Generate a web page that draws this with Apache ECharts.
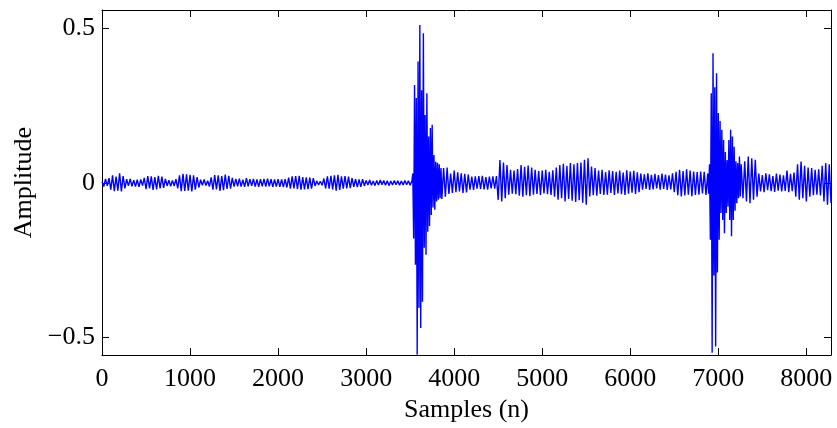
<!DOCTYPE html>
<html><head><meta charset="utf-8">
<script src="https://cdn.jsdelivr.net/npm/echarts@6/dist/echarts.min.js"></script>
<style>html,body{margin:0;padding:0;background:#fff}#c{width:837px;height:428px}</style>
</head><body><div id="c"></div>
<script>
// Tick labels
const xTicks = [0,1000,2000,3000,4000,5000,6000,7000,8000];
const yTicks = [-0.5,0,0.5];
const xRange = [0, 8280];
const yRange = [-0.558, 0.56];

// Read waveform extremes (alternating), quiet part sampled every 20 samples from n=0
const quiet0 = [0.004,-0.012,0.013,-0.010,0.015,-0.022,0.024,-0.027,0.020,-0.025,0.031,-0.028,0.022,-0.018,0.012,-0.010,0.013,-0.011,0.009,-0.012,0.010,-0.013,0.011,-0.009,0.016,-0.020,0.022,-0.018,0.021,-0.023,0.019,-0.021,0.023,-0.018,0.020,-0.016,0.013,-0.010,0.009,-0.011,0.008,-0.010,0.012,-0.018,0.024,-0.027,0.029,-0.026,0.028,-0.025];
const quiet1 = [0.026,-0.028,0.024,-0.022,0.019,-0.015,0.010,-0.008,0.011,-0.009,0.007,-0.012,0.018,-0.022,0.025,-0.021,0.024,-0.026,0.022,-0.024,0.027,-0.020,0.023,-0.019,0.016,-0.012,0.013,-0.011,0.014,-0.012,0.010,-0.013,0.015,-0.011,0.012,-0.010,0.013,-0.012,0.011,-0.013,0.012,-0.011,0.013,-0.012,0.014,-0.011,0.012,-0.013,0.011,-0.012];
const quiet2 = [0.012,-0.013,0.011,-0.014,0.012,-0.015,0.017,-0.019,0.021,-0.018,0.022,-0.020,0.023,-0.022,0.019,-0.021,0.018,-0.020,0.017,-0.019,0.015,-0.010,0.006,-0.007,0.005,-0.008,0.014,-0.018,0.021,-0.019,0.023,-0.021,0.024,-0.025,0.026,-0.023,0.021,-0.019,0.022,-0.018,0.020,-0.017,0.015,-0.013,0.012,-0.014,0.011,-0.013,0.012,-0.010];
const quiet3 = [0.008,-0.007,0.009,-0.008,0.006,-0.009,0.008,-0.007,0.009,-0.006,0.008,-0.008,0.007,-0.009,0.006,-0.007,0.008,-0.006,0.007,-0.008,0.006,-0.007,0.008,-0.006,0.007,-0.008,0.006];
const quietStart = 0, quietStep = 20;

// First event, every 10 samples from n=3530
const burst1 = [0.030,-0.180,0.317,-0.265,0.275,-0.557,0.393,-0.405,0.511,-0.470,0.300,-0.385,0.485,-0.210,0.220,-0.233,0.290,-0.158,0.150,-0.140,0.178,-0.104,0.188,-0.080,0.090,-0.087,0.068,-0.060,0.065,-0.055,0.060,-0.050,0.048];
const burst1Start = 3530, burstStep = 10;

// Middle part, every 20 samples from n=3860
const mid0 = [-0.052,0.048,-0.045,0.050,-0.036,0.030,-0.033,0.040,-0.030,0.034,-0.028,0.031,-0.033,0.029,-0.031,0.027,-0.022,0.020,-0.023,0.021,-0.019,0.022,-0.020,0.023,-0.021,0.019,-0.022,0.020,-0.018,0.021,-0.019,0.022];
const mid1 = [-0.055,0.074,-0.060,0.066,-0.050,0.058,-0.038,0.042,-0.035,0.040,-0.037,0.045,-0.042,0.058,-0.045,0.052,-0.040,0.056,-0.043,0.050,-0.038,0.042,-0.036,0.038,-0.039,0.040,-0.034,0.042,-0.037,0.036,-0.039,0.041,-0.045,0.050,-0.055,0.058,-0.050,0.062,-0.060,0.055,-0.052,0.064,-0.058,0.060,-0.062,0.064,-0.056,0.066,-0.064,0.075];
const mid2 = [-0.071,0.080,-0.044,0.053,-0.040,0.048,-0.042,0.040,-0.036,0.042,-0.039,0.035,-0.038,0.041,-0.033,0.038,-0.039,0.036,-0.034,0.040,-0.037,0.033,-0.039,0.041,-0.035,0.037,-0.032,0.039,-0.036,0.034,-0.030,0.030,-0.022,0.028,-0.020,0.031,-0.023,0.026,-0.021,0.029,-0.018,0.025,-0.022,0.030,-0.020,0.027,-0.023,0.024,-0.021,0.031];
const mid3 = [-0.030,0.036,-0.040,0.042,-0.044,0.038,-0.041,0.044,-0.038,0.040,-0.043,0.037,-0.039,0.035,-0.038,0.037,-0.034,0.036,-0.039,0.030];
const midStart = 3860, midStep = 20;

// Second event, every 10 samples from n=6890
const burst2 = [-0.035,0.060,-0.184,0.290,-0.550,0.420,-0.300,0.310,-0.530,0.355,-0.290,0.226,-0.184,0.200,-0.098,0.172,-0.120,0.139,-0.163,0.100,-0.098,0.074,-0.077,0.139,-0.120,0.172,-0.173,0.150,-0.120,0.117,-0.090,0.070,-0.066,0.064,-0.050,0.085,-0.044];
const burst2Start = 6890;

// Tail, every 20 samples from n=7260
const tail = [0.060,-0.050,0.070,-0.060,0.085,-0.066,0.080,-0.055,0.075,-0.045,0.030,-0.028,0.025,-0.030,0.031,-0.024,0.028,-0.027,0.022,-0.029,0.030,-0.025,0.027,-0.028,0.024,-0.026,0.040,-0.030,0.029,-0.027,0.033,-0.045,0.060,-0.055,0.069,-0.050,0.055,-0.060,0.050,-0.045,0.048,-0.040,0.042,-0.038,0.044,-0.041,0.055,-0.060,0.064,-0.071,0.060,-0.065];
const tailStart = 7260, tailStep = 20;

function pairs(vals, start, step){ return vals.map((v,i)=>[start+i*step, v]); }
const quiet = quiet0.concat(quiet1, quiet2, quiet3);
const mid = mid0.concat(mid1, mid2, mid3);
const data = [].concat(
  pairs(quiet, quietStart, quietStep),
  pairs(burst1, burst1Start, burstStep),
  pairs(mid, midStart, midStep),
  pairs(burst2, burst2Start, burstStep),
  pairs(tail, tailStart, tailStep)
);

const font = 'Liberation Serif';
const fs = 26;
const fmtX = v => String(v);
const fmtY = v => (v < 0 ? '\u2212' + String(-v) : String(v));
const chart = echarts.init(document.getElementById('c'), null, {renderer:'canvas'});
const lineStyle = {color:'#000', width:1};
chart.setOption({
  animation:false,
  grid:{left:102, right:6, top:10, bottom:72, containLabel:false},
  xAxis:[{
    type:'value', min:xRange[0], max:xRange[1], position:'bottom',
    name:'Samples (n)', nameLocation:'middle', nameGap:40,
    nameTextStyle:{fontFamily:font, fontSize:fs, color:'#000'},
    axisLine:{show:true, onZero:false, lineStyle},
    axisTick:{show:true, inside:true, length:7, customValues:xTicks, lineStyle},
    axisLabel:{show:true, margin:11, customValues:xTicks, formatter:fmtX, fontFamily:font, fontSize:fs, color:'#000'},
    splitLine:{show:false}
  },{
    type:'value', min:xRange[0], max:xRange[1], position:'top',
    axisLine:{show:true, onZero:false, lineStyle},
    axisTick:{show:true, inside:true, length:7, customValues:xTicks, lineStyle},
    axisLabel:{show:false}, splitLine:{show:false}
  }],
  yAxis:[{
    type:'value', min:yRange[0], max:yRange[1], position:'left',
    name:'Amplitude', nameLocation:'middle', nameGap:61, nameRotate:90,
    nameTextStyle:{fontFamily:font, fontSize:fs, color:'#000'},
    axisLine:{show:true, onZero:false, lineStyle},
    axisTick:{show:true, inside:true, length:7, customValues:yTicks, lineStyle},
    axisLabel:{show:true, margin:7, customValues:yTicks, formatter:fmtY, fontFamily:font, fontSize:fs, color:'#000'},
    splitLine:{show:false}
  },{
    type:'value', min:yRange[0], max:yRange[1], position:'right',
    axisLine:{show:true, onZero:false, lineStyle},
    axisTick:{show:true, inside:true, length:7, customValues:yTicks, lineStyle},
    axisLabel:{show:false}, splitLine:{show:false}
  }],
  series:[{
    type:'line', xAxisIndex:0, yAxisIndex:0, data:data,
    showSymbol:false, symbol:'none', sampling:null,
    lineStyle:{color:'#0000ff', width:1.4}, clip:true
  }]
});
</script></body></html>
